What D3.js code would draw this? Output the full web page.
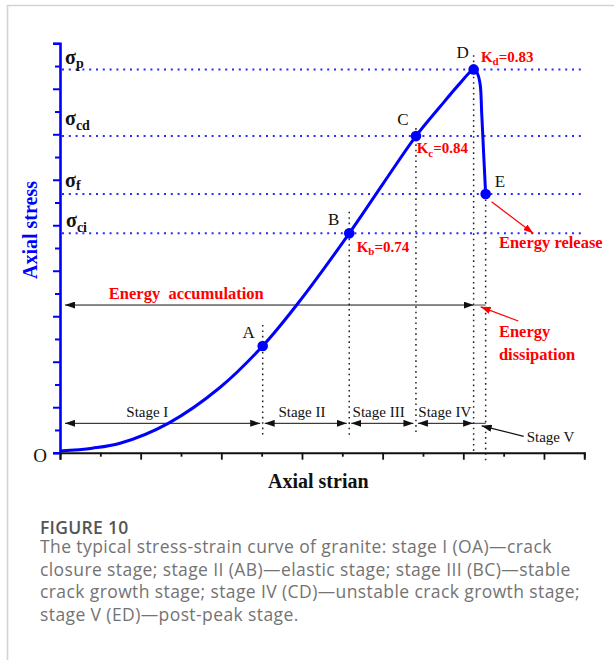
<!DOCTYPE html>
<html><head><meta charset="utf-8">
<script src="https://cdn.jsdelivr.net/npm/d3@7"></script>
<style>body{margin:0;background:#fff;} svg{display:block}</style>
</head><body>
<svg id="c" width="614" height="660"></svg>
<script>
// ---------- data ----------
const strain = [0, 0.40, 0.744, 1.342, 1.983, 2.513, 2.934, 3.586, 4.008, 4.413, 4.711, 4.958, 5.128, 5.165, 5.207, 5.228, 5.248, 5.277];
const stress = [0.037, 0.099, 0.207, 0.646, 1.433, 2.345, 3.246, 4.822, 5.921, 6.96, 7.604, 8.119, 8.426, 8.374, 8.119, 7.466, 6.725, 5.686];
const pointNames = ["A", "B", "C", "D", "E"];
const pointStrain = [2.513, 3.586, 4.413, 5.128, 5.277];
const pointStress = [2.345, 4.822, 6.96, 8.426, 5.686];
const levelSubs = ["p", "cd", "f", "ci"];
const levelStress = [8.426, 6.96, 5.686, 4.822];
const kSubs = ["b", "c", "d"];
const kValues = ["0.74", "0.84", "0.83"];
const stageLabels = ["Stage I", "Stage II", "Stage III", "Stage IV"];
const xTicks = d3.range(0, 6.51, 0.5);
const yTicks = d3.range(0, 9.01, 0.5);
const captionTitle = "FIGURE 10";
const captionLines = [
  "The typical stress-strain curve of granite: stage I (OA)\u2014crack",
  "closure stage; stage II (AB)\u2014elastic stage; stage III (BC)\u2014stable",
  "crack growth stage; stage IV (CD)\u2014unstable crack growth stage;",
  "stage V (ED)\u2014post-peak stage."
];

// ---------- layout ----------
const svg = d3.select("#c");
const x = d3.scaleLinear().domain([0, 6.5]).range([60, 584.3]);
const y = d3.scaleLinear().domain([0, 9]).range([452.7, 43.3]);
const serif = "'Liberation Serif','Times New Roman',serif";
const BLUE = "#0000ff", RED = "#ff0000";

// frame
svg.append("path").attr("d", "M7.5,660 V5.5 H614").attr("fill", "none")
  .attr("stroke", "#d3d3d3").attr("stroke-width", 1.6);

// markers
const defs = svg.append("defs");
function marker(id, color) {
  defs.append("marker").attr("id", id).attr("viewBox", "0 0 10 7")
    .attr("refX", 10).attr("refY", 3.5).attr("markerWidth", 10).attr("markerHeight", 7)
    .attr("markerUnits", "userSpaceOnUse").attr("orient", "auto-start-reverse")
    .append("path").attr("d", "M0,0 L10,3.5 L0,7 Z").attr("fill", color);
}
marker("ab", "#111");
marker("ar", RED);

// horizontal dotted levels
svg.append("g").selectAll("line").data(levelStress).join("line")
  .attr("x1", x(0) + 2).attr("x2", x(6.46))
  .attr("y1", d => y(d)).attr("y2", d => y(d))
  .attr("stroke", "#2b2bff").attr("stroke-width", 2).attr("stroke-dasharray", "2,4.8");

// vertical dotted guides
const guideTop = [2.807, 5.297, 7.136, 8.74, 5.686];
const guideBottom = [0.352, 0.323, 0.389, -0.01, -0.2];
svg.append("g").selectAll("line").data(pointStrain).join("line")
  .attr("x1", d => x(d)).attr("x2", d => x(d))
  .attr("y1", (d, i) => y(guideTop[i])).attr("y2", (d, i) => y(guideBottom[i]))
  .attr("stroke", "#222").attr("stroke-width", 1.5).attr("stroke-dasharray", "1.6,3.8");

// axes
const yAxis = svg.append("g").attr("transform", `translate(${x(0)},0)`)
  .call(d3.axisLeft(y).tickValues(yTicks).tickFormat("").tickSizeOuter(0).tickSize(7));
yAxis.select(".domain").attr("stroke", BLUE).attr("stroke-width", 2.6);
yAxis.selectAll(".tick line").attr("stroke", BLUE).attr("stroke-width", 2)
  .attr("x2", d => (Math.abs(d - Math.round(d)) < 1e-6 ? -7 : -5));

const xAxis = svg.append("g").attr("transform", `translate(0,${y(0)})`)
  .call(d3.axisBottom(x).tickValues(xTicks).tickFormat("").tickSizeOuter(0).tickSize(7));
xAxis.select(".domain").attr("stroke", "#111").attr("stroke-width", 2);
xAxis.selectAll(".tick line").attr("stroke", "#111").attr("stroke-width", 1.8)
  .attr("y2", d => (Math.abs(d - Math.round(d)) < 1e-6 ? 7 : 4));

// Energy accumulation arrow
const accY = 3.246;
svg.append("line").attr("x1", x(0) + 5).attr("x2", x(pointStrain[3]))
  .attr("y1", y(accY)).attr("y2", y(accY)).attr("stroke", "#111").attr("stroke-width", 1)
  .attr("marker-start", "url(#ab)").attr("marker-end", "url(#ab)");
svg.append("line").attr("x1", x(pointStrain[3])).attr("x2", x(pointStrain[4]))
  .attr("y1", y(accY)).attr("y2", y(accY)).attr("stroke", "#888").attr("stroke-width", 1.5);

// stage arrows
const stageY = 0.646;
const stageStart = [0, ...pointStrain.slice(0, 3)];
const stageEnd = pointStrain.slice(0, 4);
svg.append("g").selectAll("line").data(stageLabels).join("line")
  .attr("x1", (d, i) => x(stageStart[i]) + (i === 0 ? 5 : 2))
  .attr("x2", (d, i) => x(stageEnd[i]) - (i === 3 ? 0.5 : 2.5))
  .attr("y1", y(stageY)).attr("y2", y(stageY))
  .attr("stroke", "#111").attr("stroke-width", 1)
  .attr("marker-start", "url(#ab)").attr("marker-end", "url(#ab)");
svg.append("line").attr("x1", x(pointStrain[3])).attr("x2", x(pointStrain[4]))
  .attr("y1", y(stageY)).attr("y2", y(stageY)).attr("stroke", "#333").attr("stroke-width", 1);
svg.append("g").selectAll("text").data(stageLabels).join("text")
  .attr("x", (d, i) => (x(stageStart[i]) + x(stageEnd[i])) / 2 + [-14, -4, -4, 0][i])
  .attr("y", y(stageY) - 6.6).attr("text-anchor", "middle")
  .attr("font-family", serif).attr("font-size", 15).attr("fill", "#111").text(d => d);
// Stage V
svg.append("line").attr("x1", x(pointStrain[4]) + 38).attr("y1", y(stageY) + 13)
  .attr("x2", x(pointStrain[4]) - 4).attr("y2", y(stageY) + 2.5)
  .attr("stroke", "#111").attr("stroke-width", 1.2).attr("marker-end", "url(#ab)");
svg.append("text").attr("x", x(pointStrain[4]) + 41).attr("y", y(stageY) + 18.4)
  .attr("font-family", serif).attr("font-size", 15).attr("fill", "#111").text("Stage V");

// red arrows
svg.append("line").attr("x1", x(pointStrain[4]) + 6).attr("y1", y(pointStress[4]) + 7.7)
  .attr("x2", x(pointStrain[4]) + 47.6).attr("y2", y(pointStress[4]) + 39.3)
  .attr("stroke", RED).attr("stroke-width", 1.2).attr("marker-end", "url(#ar)");
svg.append("line").attr("x1", x(pointStrain[4]) + 32.6).attr("y1", y(accY) + 16)
  .attr("x2", x(pointStrain[4]) - 5).attr("y2", y(accY) + 1.8)
  .attr("stroke", RED).attr("stroke-width", 1.2).attr("marker-end", "url(#ar)");

// curve
const pts = strain.map((d, i) => [d, stress[i]]);
svg.append("path").datum(pts)
  .attr("d", d3.line().x(d => x(d[0])).y(d => y(d[1])).curve(d3.curveCatmullRom.alpha(0.5)))
  .attr("fill", "none").attr("stroke", BLUE).attr("stroke-width", 3);
svg.append("g").selectAll("circle").data(pointStrain).join("circle")
  .attr("cx", d => x(d)).attr("cy", (d, i) => y(pointStress[i])).attr("r", 5.3).attr("fill", BLUE);

// point letters
const letterDx = [-14, -15.5, -13, -11, 14.3];
const letterDy = [-8, -8.3, -11, -11.3, -7.3];
svg.append("g").selectAll("text").data(pointNames).join("text")
  .attr("x", (d, i) => x(pointStrain[i]) + letterDx[i])
  .attr("y", (d, i) => y(pointStress[i]) + letterDy[i])
  .attr("text-anchor", "middle").attr("font-family", serif).attr("font-size", 17)
  .attr("fill", "#111").text(d => d);
svg.append("text").attr("x", 40).attr("y", 462).attr("text-anchor", "middle")
  .attr("font-family", serif).attr("font-size", 19).attr("fill", "#111").text("O");

// K labels
const kDx = [7.4, 0.7, 7.3], kDy = [18.4, 17, -7.6];
const kt = svg.append("g").selectAll("text").data(kSubs).join("text")
  .attr("x", (d, i) => x(pointStrain[i + 1]) + kDx[i])
  .attr("y", (d, i) => y(pointStress[i + 1]) + kDy[i])
  .attr("font-family", serif).attr("font-size", 15).attr("font-weight", "bold").attr("fill", RED);
kt.append("tspan").text("K");
kt.append("tspan").attr("dy", 3.5).attr("font-size", 11).text(d => d);
kt.append("tspan").attr("dy", -3.5).text((d, i) => "=" + kValues[i]);

// sigma labels
const sDy = [-5, -11, -7.3, -6.6], subDy = [4, 5, 3.5, 5];
const st = svg.append("g").selectAll("text").data(levelSubs).join("text")
  .attr("x", (d, i) => i === 3 ? 66 : 65).attr("y", (d, i) => y(levelStress[i]) + sDy[i])
  .attr("font-family", serif).attr("font-weight", "bold").attr("font-size", 20).attr("fill", "#111");
st.append("tspan").text("\u03c3");
st.append("tspan").attr("dy", (d, i) => subDy[i]).attr("font-size", 14).text(d => d);

// energy texts
const red = (t, xx, yy, anchor) => svg.append("text").attr("x", xx).attr("y", yy)
  .attr("text-anchor", anchor || "start").attr("font-family", serif).attr("font-weight", "bold")
  .attr("font-size", 16.5).attr("fill", RED).attr("xml:space", "preserve").text(t);
red("Energy  accumulation", 186.3, y(accY) - 5.7, "middle");
red("Energy release", x(pointStrain[4]) + 13.3, y(pointStress[4]) + 54);
red("Energy", x(pointStrain[4]) + 13.3, y(accY) + 31.7);
red("dissipation", x(pointStrain[4]) + 13.3, y(accY) + 55);

// axis titles
svg.append("text").attr("transform", "translate(37,230) rotate(-90)").attr("text-anchor", "middle")
  .attr("font-family", serif).attr("font-weight", "bold").attr("font-size", 20).attr("fill", BLUE)
  .text("Axial stress");
svg.append("text").attr("x", 318.3).attr("y", 488.3).attr("text-anchor", "middle")
  .attr("font-family", serif).attr("font-weight", "bold").attr("font-size", 20).attr("fill", "#111")
  .text("Axial strian");

// caption
svg.append("text").attr("x", 40).attr("y", 533.8).attr("font-family", "'Open Sans',sans-serif")
  .attr("font-weight", 600).attr("font-size", 17.5).attr("letter-spacing", 0.3).attr("fill", "#555").text(captionTitle);
svg.append("g").selectAll("text").data(captionLines).join("text")
  .attr("x", 40).attr("y", (d, i) => 552.8 + i * 22.7)
  .attr("font-family", "'Open Sans',sans-serif").attr("font-size", 17.5).attr("letter-spacing", 0.4)
  .attr("fill", "#737373")
  .text(d => d);
</script>
</body></html>
